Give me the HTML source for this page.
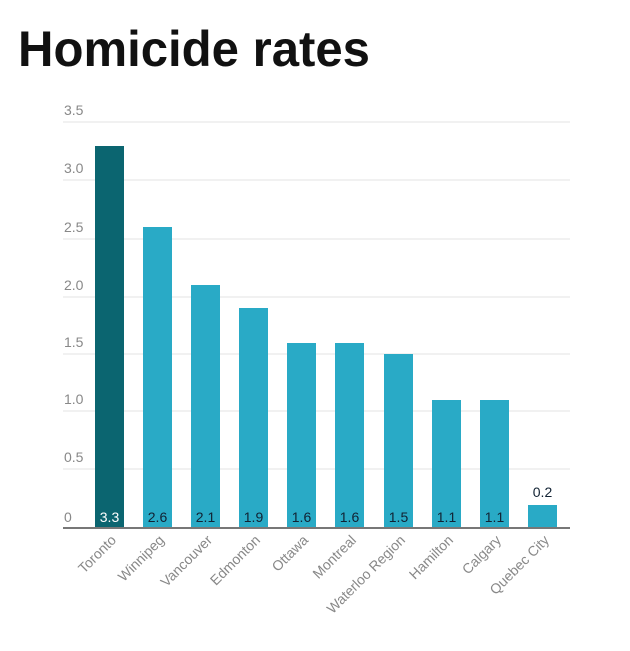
<!DOCTYPE html>
<html><head><meta charset="utf-8"><style>
body{margin:0;background:#fff;width:630px;height:646px;overflow:hidden}
</style></head><body>
<svg width="630" height="646" xmlns="http://www.w3.org/2000/svg" font-family="Liberation Sans, sans-serif">
<text x="18" y="66" font-size="50" font-weight="bold" fill="#111" textLength="352" lengthAdjust="spacingAndGlyphs">Homicide rates</text>
<g stroke="#e3e3e3" stroke-width="1">
<line x1="63" x2="570" y1="122" y2="122"/><line x1="63" x2="570" y1="180" y2="180"/>
<line x1="63" x2="570" y1="239" y2="239"/><line x1="63" x2="570" y1="297" y2="297"/>
<line x1="63" x2="570" y1="354" y2="354"/><line x1="63" x2="570" y1="411" y2="411"/>
<line x1="63" x2="570" y1="469" y2="469"/>
</g>
<g font-size="14" fill="#888" transform="scale(1,1)">
<text x="64" y="115">3.5</text><text x="64" y="173">3.0</text><text x="64" y="232">2.5</text>
<text x="64" y="290">2.0</text><text x="64" y="347">1.5</text><text x="64" y="404">1.0</text>
<text x="64" y="462">0.5</text><text x="64" y="522">0</text>
</g>
<rect x="95" y="146" width="29" height="382" fill="#0b6570"/>
<g fill="#29aac6">
<rect x="143" y="227" width="29" height="301"/>
<rect x="191" y="285" width="29" height="243"/>
<rect x="239" y="308" width="29" height="220"/>
<rect x="287" y="343" width="29" height="185"/>
<rect x="335" y="343" width="29" height="185"/>
<rect x="384" y="354" width="29" height="174"/>
<rect x="432" y="400" width="29" height="128"/>
<rect x="480" y="400" width="29" height="128"/>
<rect x="528" y="505" width="29" height="23"/>
</g>
<line x1="63" x2="570" y1="528" y2="528" stroke="#777" stroke-width="2"/>
<g font-size="14" text-anchor="middle" fill="#123">
<text x="109.5" y="522" fill="#fff">3.3</text>
<text x="157.5" y="522">2.6</text><text x="205.5" y="522">2.1</text>
<text x="253.5" y="522">1.9</text><text x="301.5" y="522">1.6</text>
<text x="349.5" y="522">1.6</text><text x="398.5" y="522">1.5</text>
<text x="446.5" y="522">1.1</text><text x="494.5" y="522">1.1</text>
<text x="542.5" y="497">0.2</text>
</g>
<g font-size="14" fill="#888" text-anchor="end">
<text transform="translate(117,541) rotate(-45)">Toronto</text>
<text transform="translate(165,541) rotate(-45)">Winnipeg</text>
<text transform="translate(213,541) rotate(-45)">Vancouver</text>
<text transform="translate(261,541) rotate(-45)">Edmonton</text>
<text transform="translate(309,541) rotate(-45)">Ottawa</text>
<text transform="translate(357,541) rotate(-45)">Montreal</text>
<text transform="translate(406,541) rotate(-45)">Waterloo Region</text>
<text transform="translate(454,541) rotate(-45)">Hamilton</text>
<text transform="translate(502,541) rotate(-45)">Calgary</text>
<text transform="translate(550,541) rotate(-45)">Quebec City</text>
</g>
</svg>
</body></html>
